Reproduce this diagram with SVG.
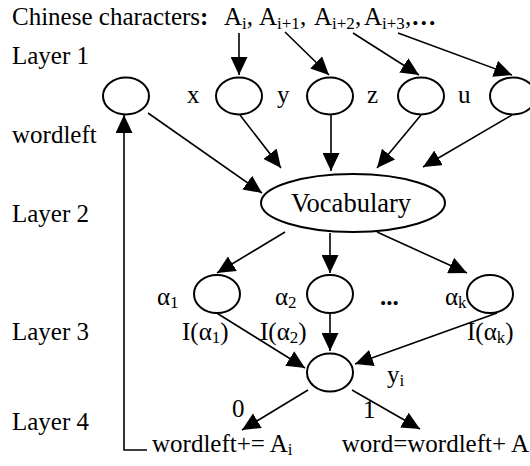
<svg xmlns="http://www.w3.org/2000/svg" width="530" height="466" viewBox="0 0 530 466" font-family="'Liberation Serif', 'Times New Roman', 'DejaVu Serif', serif" font-size="25">
  <defs>
    <marker id="arrow" markerUnits="userSpaceOnUse" markerWidth="18" markerHeight="17" refX="18" refY="8.5" orient="auto">
      <path d="M0,0 L18,8.5 L0,17 z" fill="#000"/>
    </marker>
    <style>
      text { font-family: 'Liberation Serif', 'Times New Roman', 'DejaVu Serif', serif; font-size: 25px; fill: #000; }
      .sub { font-size: 17px; }
      .node { fill: #fff; stroke: #000; stroke-width: 2; }
      .edge { fill: none; stroke: #000; stroke-width: 1.6; marker-end: url(#arrow); }
    </style>
  </defs>
  <rect width="530" height="466" fill="#fff"/>

  <!-- headings and layer labels -->
  <g id="labels">
    <text x="12" y="25">Chinese characters<tspan font-weight="bold">:</tspan> <tspan x="224">A</tspan><tspan class="sub" dy="4">i</tspan><tspan dy="-4">, </tspan><tspan x="259">A</tspan><tspan class="sub" dy="4">i+1</tspan><tspan dy="-4">, </tspan><tspan x="314">A</tspan><tspan class="sub" dy="4">i+2</tspan><tspan dy="-4">,</tspan><tspan x="364">A</tspan><tspan class="sub" dy="4">i+3</tspan><tspan dy="-4">,</tspan><tspan font-weight="bold">…</tspan></text>
    <text x="12" y="64">Layer 1</text>
    <text x="12" y="143">wordleft</text>
    <text x="12" y="222">Layer 2</text>
    <text x="12" y="340">Layer 3</text>
    <text x="12" y="430">Layer 4</text>
  </g>

  <!-- connectors -->
  <g id="connectors">
    <line class="edge" x1="239" y1="33" x2="239" y2="75"/>
    <line class="edge" x1="285" y1="32" x2="329" y2="75"/>
    <line class="edge" x1="353" y1="33" x2="419" y2="75"/>
    <line class="edge" x1="398" y1="33" x2="512" y2="75"/>

    <line class="edge" x1="148" y1="113" x2="262" y2="193"/>
    <line class="edge" x1="240" y1="115" x2="281" y2="168"/>
    <line class="edge" x1="331" y1="115" x2="331" y2="171"/>
    <line class="edge" x1="421" y1="115" x2="377" y2="168"/>
    <line class="edge" x1="512" y1="115" x2="423" y2="167"/>

    <line class="edge" x1="285" y1="232" x2="217" y2="273"/>
    <line class="edge" x1="330" y1="233" x2="330" y2="273"/>
    <line class="edge" x1="377" y1="232" x2="467" y2="273"/>

    <line class="edge" x1="215" y1="312" x2="305" y2="368"/>
    <line class="edge" x1="330" y1="313" x2="330" y2="351"/>
    <line class="edge" x1="497" y1="313" x2="355" y2="364"/>

    <line class="edge" x1="308" y1="390" x2="242" y2="430"/>
    <line class="edge" x1="352" y1="390" x2="420" y2="429"/>

    <polyline class="edge" points="147,450 124,450 124,115"/>
  </g>

  <!-- layer 1 -->
  <g id="n-wordleft"><ellipse class="node" cx="126" cy="96" rx="23" ry="18.5"/></g>
  <g id="n-x"><ellipse class="node" cx="239" cy="96" rx="23" ry="18.5"/><text x="187" y="103">x</text></g>
  <g id="n-y"><ellipse class="node" cx="330" cy="96" rx="23" ry="18.5"/><text x="277" y="103">y</text></g>
  <g id="n-z"><ellipse class="node" cx="421" cy="96" rx="23" ry="18.5"/><text x="367" y="103">z</text></g>
  <g id="n-u"><ellipse class="node" cx="513" cy="96" rx="23" ry="18.5"/><text x="458" y="103">u</text></g>

  <!-- layer 2 -->
  <g id="n-vocabulary">
    <ellipse class="node" cx="353" cy="203" rx="92" ry="29"/>
    <text x="351" y="212" text-anchor="middle" style="font-size:26.5px">Vocabulary</text>
  </g>

  <!-- layer 3 -->
  <g id="n-alpha1">
    <ellipse class="node" cx="217" cy="294" rx="23" ry="19"/>
    <text x="157" y="305">α<tspan class="sub" dy="3">1</tspan></text>
    <text x="182" y="340">I(α<tspan class="sub" dy="3">1</tspan><tspan dy="-3">)</tspan></text>
  </g>
  <g id="n-alpha2">
    <ellipse class="node" cx="330" cy="294" rx="23" ry="19"/>
    <text x="275" y="305">α<tspan class="sub" dy="3">2</tspan></text>
    <text x="260" y="340">I(α<tspan class="sub" dy="3">2</tspan><tspan dy="-3">)</tspan></text>
  </g>
  <text x="380" y="305" font-weight="bold">...</text>
  <g id="n-alphak">
    <ellipse class="node" cx="490" cy="294" rx="23" ry="19"/>
    <text x="445" y="305">α<tspan class="sub" dy="3">k</tspan></text>
    <text x="467" y="340">I(α<tspan class="sub" dy="3">k</tspan><tspan dy="-3">)</tspan></text>
  </g>

  <!-- layer 4 -->
  <g id="n-yi">
    <ellipse class="node" cx="330" cy="372.5" rx="23" ry="19"/>
    <text x="387" y="383">y<tspan class="sub" dy="3">i</tspan></text>
  </g>
  <g id="out-0">
    <text x="232" y="417">0</text>
    <text x="152" y="452">wordleft+= A<tspan class="sub" dy="3">i</tspan></text>
  </g>
  <g id="out-1">
    <text x="363" y="418">1</text>
    <text x="529" y="452" text-anchor="end">word=wordleft+ A</text>
  </g>
</svg>
